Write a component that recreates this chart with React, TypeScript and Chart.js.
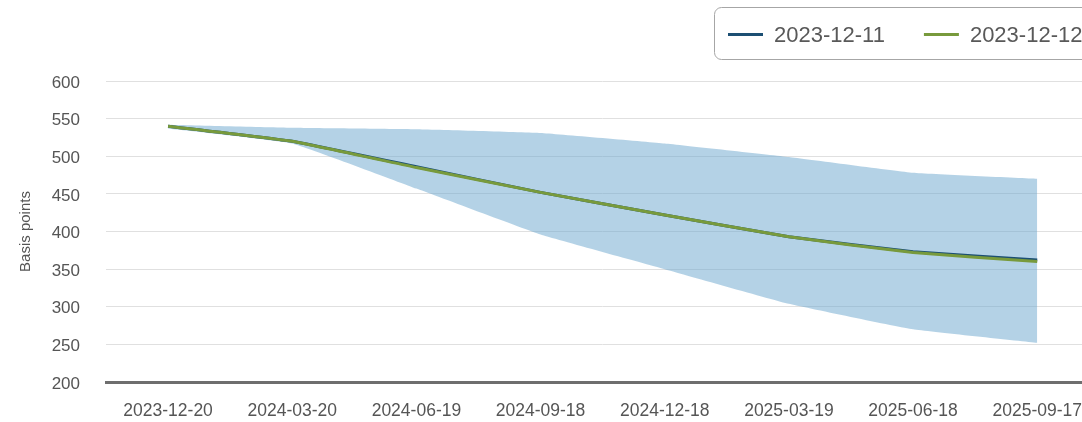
import React, { useEffect, useRef } from "react";
import { Chart, registerables } from "chart.js";

Chart.register(...registerables);

const categories = [
  "2023-12-20",
  "2024-03-20",
  "2024-06-19",
  "2024-09-18",
  "2024-12-18",
  "2025-03-19",
  "2025-06-18",
  "2025-09-17",
];

const series1211 = [540, 520, 486, 452, 422, 393, 373, 362];
const series1212 = [540, 520, 485, 452, 422, 393, 372, 360];
const bandUpper = [542, 538, 536, 531, 517, 499, 478, 470];
const bandLower = [537, 517, 457, 396, 350, 304, 270, 252];

const seriesLabels = ["2023-12-11", "2023-12-12"];
const yTitle = "Basis points";
const yMin = 200;
const yMax = 600;
const yGridStep = 25;
const yLabelStep = 50;

const FONT = "'Liberation Sans', Arial, Helvetica, sans-serif";

const legendBoxPlugin = {
  id: "legendBox",
  afterDraw(chart: any) {
    const ctx = chart.ctx as CanvasRenderingContext2D;
    const items = chart.data.datasets.filter((d: any) => d.showInLegend);
    ctx.save();
    ctx.font = `22px ${FONT}`;
    const sample = 35;
    const gap = 11;
    const itemGap = 39;
    const startX = 728;
    const cy = 34.5;
    let x = startX;
    const positions: number[] = [];
    items.forEach((d: any) => {
      positions.push(x);
      x += sample + gap + ctx.measureText(d.label).width + itemGap;
    });
    const right = x - itemGap + 14;
    const bx = 714.5, by = 7.5, bw = right - bx, bh = 52, r = 7;
    ctx.beginPath();
    ctx.moveTo(bx + r, by);
    ctx.lineTo(bx + bw - r, by);
    ctx.arcTo(bx + bw, by, bx + bw, by + r, r);
    ctx.lineTo(bx + bw, by + bh - r);
    ctx.arcTo(bx + bw, by + bh, bx + bw - r, by + bh, r);
    ctx.lineTo(bx + r, by + bh);
    ctx.arcTo(bx, by + bh, bx, by + bh - r, r);
    ctx.lineTo(bx, by + r);
    ctx.arcTo(bx, by, bx + r, by, r);
    ctx.closePath();
    ctx.fillStyle = "#ffffff";
    ctx.fill();
    ctx.strokeStyle = "#a6a6a6";
    ctx.lineWidth = 1;
    ctx.stroke();
    items.forEach((d: any, i: number) => {
      const px = positions[i];
      ctx.beginPath();
      ctx.strokeStyle = d.borderColor;
      ctx.lineWidth = 3;
      ctx.moveTo(px, cy);
      ctx.lineTo(px + sample, cy);
      ctx.stroke();
      ctx.fillStyle = "#595959";
      ctx.textBaseline = "middle";
      ctx.textAlign = "left";
      ctx.fillText(d.label, px + sample + gap, cy + 1);
    });
    ctx.restore();
  },
};

export default function App() {
  const canvasRef = useRef<HTMLCanvasElement | null>(null);

  useEffect(() => {
    if (!canvasRef.current) return;
    const chart = new Chart(canvasRef.current, {
      type: "line",
      data: {
        labels: categories,
        datasets: [
          {
            label: seriesLabels[0],
            data: series1211,
            borderColor: "#1c4f73",
            backgroundColor: "#1c4f73",
            borderWidth: 3,
            pointRadius: 0,
            fill: false,
            tension: 0.1,
            order: 1,
            showInLegend: true,
          } as any,
          {
            label: seriesLabels[1],
            data: series1212,
            borderColor: "#789a3c",
            backgroundColor: "#789a3c",
            borderWidth: 3,
            pointRadius: 0,
            fill: false,
            tension: 0.1,
            order: 0,
            showInLegend: true,
          } as any,
          {
            label: "upper",
            data: bandUpper,
            borderWidth: 0,
            borderColor: "rgba(0,0,0,0)",
            backgroundColor: "rgba(105,165,205,0.5)",
            pointRadius: 0,
            fill: "+1",
            tension: 0.1,
            order: 2,
            showInLegend: false,
          } as any,
          {
            label: "lower",
            data: bandLower,
            borderWidth: 0,
            borderColor: "rgba(0,0,0,0)",
            backgroundColor: "rgba(105,165,205,0.5)",
            pointRadius: 0,
            fill: false,
            tension: 0.1,
            order: 3,
            showInLegend: false,
          } as any,
        ],
      },
      options: {
        responsive: false,
        animation: false,
        events: [],
        layout: { padding: { top: 81, left: 0, right: 0, bottom: 0 } },
        plugins: {
          legend: { display: false },
          tooltip: { enabled: false },
          title: { display: false },
        },
        scales: {
          x: {
            offset: true,
            grid: { display: false, drawTicks: false },
            border: { display: true, color: "#6e6e6e", width: 3 },
            ticks: {
              color: "#555555",
              font: { family: FONT, size: 17.5 },
              padding: 19,
              maxRotation: 0,
              autoSkip: false,
            },
            afterFit: (scale: any) => {
              scale.height = 40;
            },
          },
          y: {
            min: yMin,
            max: yMax,
            grid: { color: "#e0e0e0", lineWidth: 1, drawTicks: false },
            border: { display: false },
            ticks: {
              stepSize: yGridStep,
              color: "#555555",
              font: { family: FONT, size: 17 },
              padding: 26,
              labelOffset: 2,
              callback: (v: any) => (Number(v) % yLabelStep === 0 ? String(v) : ""),
            },
            title: {
              display: true,
              text: yTitle,
              color: "#555555",
              font: { family: FONT, size: 15 },
              padding: { top: 17, bottom: 0 },
            },
            afterFit: (scale: any) => {
              scale.width = 106;
            },
          },
        },
      },
      plugins: [legendBoxPlugin],
    });
    return () => chart.destroy();
  }, []);

  return (
    <div
      style={{
        position: "fixed",
        left: 0,
        top: 0,
        width: 1082,
        height: 422,
        overflow: "hidden",
        background: "#ffffff",
      }}
    >
      <canvas ref={canvasRef} width={1101} height={422} style={{ display: "block" }} />
    </div>
  );
}
